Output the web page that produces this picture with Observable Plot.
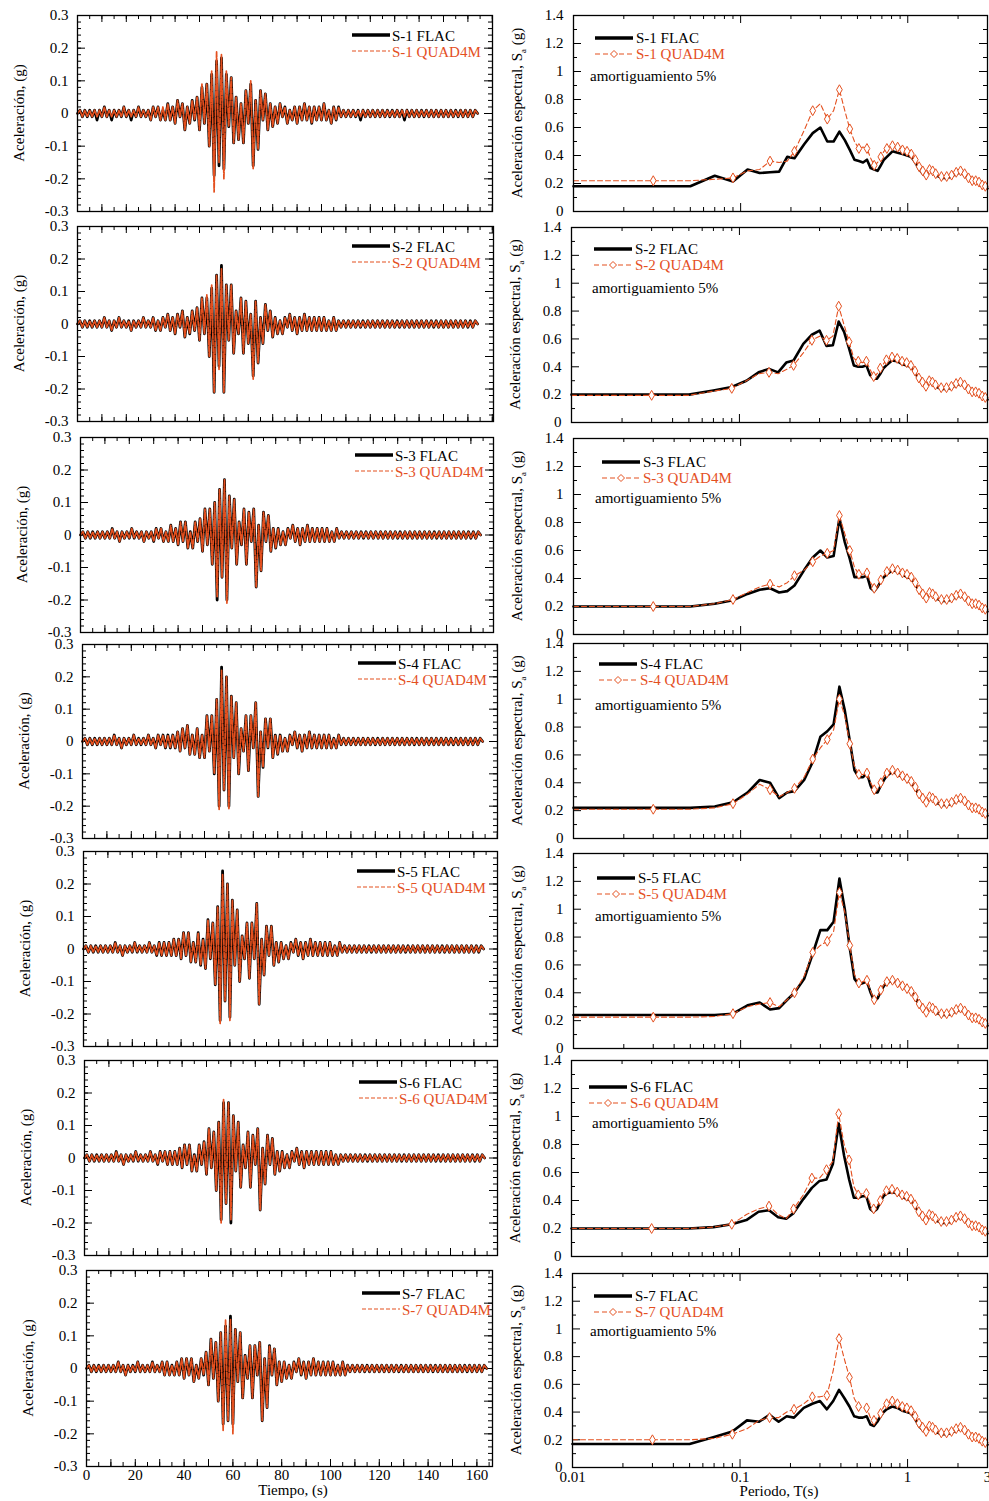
<!DOCTYPE html>
<html><head><meta charset="utf-8">
<script src="https://cdn.jsdelivr.net/npm/d3@7"></script>
<script src="https://cdn.jsdelivr.net/npm/@observablehq/plot@0.6"></script>
<style>
html,body{margin:0;padding:0;background:#fff;}
#root{position:relative;width:989px;height:1501px;overflow:hidden;background:#fff;}
</style></head><body><div id="root"></div>
<script>
// ---------------- DATA ----------------
// Time histories: acceleration in hundredths of g, one sample per second (paso)
const paso = 1;
const s1Flac = [0,1,-1,1,-1,1,-1,1,-2,1, -1,2,-1,1,-2,1,-1,1,-1,2, -1,1,-2,1,-1,2,-1,1,-1,1,
 -2,2,-1,2,-2,1,-2,3,-2,2, -3,4,-1,3,-5,2,-3,4,-2,5, -5,8,-3,9,-10,12,-19,16,-16,17,
 -17,12,-4,11,-9,5,-8,3,-9,7, -3,9,-16,4,-11,7,-2,6,-5,3, -4,2,-3,3,-1,2,-3,1,-2,2,
 -3,2,-2,3,-2,2,-3,2,-2,2, -2,3,-2,1,-3,2,-2,2,-1,1, -1,1,-1,1,-1,1,-2,1,-1,1,
 -1,1,-1,1,-1,1,-1,1,-1,1, -1,1,-1,1,-2,1,-1,1,-1,1, -1,1,-1,1,-1,1,-1,1,-1,1,
 -1,1,-1,1,-1,1,-1,1,-1,1, -1,1,-1,1,0];
const s1Quad = [0,1,-1,1,-1,1,-1,1,-1,1, -1,2,-1,1,-1,1,-1,1,-1,2, -1,1,-1,1,-1,2,-1,1,-1,1,
 -2,2,-1,2,-2,2,-2,3,-2,2, -3,4,-1,3,-5,2,-3,4,-2,5, -5,9,-3,9,-10,13,-24,19,-15,18,
 -20,13,-4,11,-9,5,-8,3,-9,7, -3,10,-17,4,-11,7,-2,6,-5,3, -4,2,-3,3,-1,2,-3,1,-2,2,
 -3,2,-2,3,-2,2,-3,2,-2,2, -2,3,-2,1,-3,2,-2,2,-1,1, -1,1,-1,1,-1,1,-1,1,-1,1,
 -1,1,-1,1,-1,1,-1,1,-1,1, -1,1,-1,1,-1,1,-1,1,-1,1, -1,1,-1,1,-1,1,-1,1,-1,1,
 -1,1,-1,1,-1,1,-1,1,-1,1, -1,1,-1,1,0];
const s2Flac = [0,1,-1,1,-1,1,-1,1,-1,1, -1,2,-1,1,-2,1,-1,2,-1,1, -1,1,-2,1,-1,1,-1,2,-1,1,
 -1,2,-2,1,-2,2,-1,3,-2,2, -3,3,-1,4,-4,2,-3,4,-2,5, -5,8,-3,8,-10,11,-21,15,-13,18,
 -21,12,-5,12,-9,4,-3,8,-9,7, -6,3,-16,7,-12,2,-6,6,-2,4, -4,2,-3,1,-3,2,-1,3,-2,2,
 -3,2,-2,3,-2,2,-2,2,-2,2, -2,2,-2,1,-2,2,-2,1,-1,1, -1,1,-1,1,-1,1,-1,1,-1,1,
 -1,1,-1,1,-1,1,-1,1,-1,1, -1,1,-1,1,-1,1,-1,1,-1,1, -1,1,-1,1,-1,1,-1,1,-1,1,
 -1,1,-1,1,-1,1,-1,1,-1,1, -1,1,-1,1,0];
const s2Quad = [0,1,-1,1,-1,1,-1,1,-1,1, -1,2,-1,1,-2,1,-1,2,-1,1, -1,1,-2,1,-1,1,-1,2,-1,1,
 -1,2,-2,1,-2,2,-1,3,-2,2, -3,3,-1,4,-4,2,-3,4,-2,5, -5,8,-3,9,-10,12,-21,15,-14,17,
 -21,12,-5,12,-9,4,-3,8,-9,7, -6,3,-17,7,-12,2,-6,6,-2,4, -4,2,-3,1,-3,2,-1,3,-2,2,
 -3,2,-2,3,-2,2,-2,2,-2,2, -2,2,-2,1,-2,2,-2,1,-1,1, -1,1,-1,1,-1,1,-1,1,-1,1,
 -1,1,-1,1,-1,1,-1,1,-1,1, -1,1,-1,1,-1,1,-1,1,-1,1, -1,1,-1,1,-1,1,-1,1,-1,1,
 -1,1,-1,1,-1,1,-1,1,-1,1, -1,1,-1,1,0];
const s3Flac = [0,1,-1,1,-1,1,-1,1,-1,1, -1,1,-1,2,-1,1,-2,1,-1,1, -1,2,-1,1,-1,1,-2,1,-1,1,
 -2,2,-1,2,-2,1,-2,3,-2,2, -3,4,-2,4,-4,1,-4,4,-2,5, -5,8,-3,8,-9,10,-20,14,-13,17,
 -20,12,-4,11,-9,4,-3,8,-9,7, -2,8,-16,3,-11,7,-2,6,-5,2, -4,2,-3,1,-3,2,-1,3,-2,2,
 -3,2,-2,3,-2,2,-2,2,-2,2, -2,2,-2,1,-2,2,-1,1,-1,1, -1,1,-1,1,-1,1,-1,1,-1,1,
 -1,1,-1,1,-1,1,-1,1,-1,1, -1,1,-1,1,-1,1,-1,1,-1,1, -1,1,-1,1,-1,1,-1,1,-1,1,
 -1,1,-1,1,-1,1,-1,1,-1,1, -1,1,-1,1,0];
const s3Quad = [0,1,-1,1,-1,1,-1,1,-1,1, -1,1,-1,2,-1,1,-2,1,-1,1, -1,2,-1,1,-1,1,-2,1,-1,1,
 -2,2,-1,2,-2,1,-2,3,-2,2, -3,4,-2,4,-4,1,-4,4,-2,5, -5,8,-3,8,-9,10,-19,14,-13,17,
 -21,12,-4,11,-9,4,-3,8,-9,7, -2,8,-16,3,-11,7,-2,6,-5,2, -4,2,-3,1,-3,2,-1,3,-2,2,
 -3,2,-2,3,-2,2,-2,2,-2,2, -2,2,-2,1,-2,2,-1,1,-1,1, -1,1,-1,1,-1,1,-1,1,-1,1,
 -1,1,-1,1,-1,1,-1,1,-1,1, -1,1,-1,1,-1,1,-1,1,-1,1, -1,1,-1,1,-1,1,-1,1,-1,1,
 -1,1,-1,1,-1,1,-1,1,-1,1, -1,1,-1,1,0];
const s4Flac = [0,1,-1,1,-1,1,-1,1,-1,1, -1,1,-1,2,-1,1,-2,1,-1,1, -1,2,-1,1,-1,1,-1,2,-1,1,
 -2,2,-1,2,-2,2,-2,2,-2,3, -3,4,-2,5,-4,2,-4,4,-5,2, -5,8,-3,8,-10,13,-20,23,-15,20,
 -20,14,-5,12,-10,4,-3,8,-9,8, -2,12,-17,3,-8,7,-2,7,-5,2, -4,2,-3,1,-3,2,-1,3,-2,2,
 -3,2,-2,3,-2,2,-2,2,-2,2, -2,2,-2,1,-2,2,-1,1,-1,1, -1,1,-1,1,-1,1,-1,1,-1,1,
 -1,1,-1,1,-1,1,-1,1,-1,1, -1,1,-1,1,-1,1,-1,1,-1,1, -1,1,-1,1,-1,1,-1,1,-1,1,
 -1,1,-1,1,-1,1,-1,1,-1,1, -1,1,-1,1,0];
const s4Quad = [0,1,-1,1,-1,1,-1,1,-1,1, -1,1,-1,2,-1,1,-2,1,-1,1, -1,2,-1,1,-1,1,-1,2,-1,1,
 -2,2,-1,2,-2,2,-2,2,-2,3, -3,4,-2,5,-4,2,-4,4,-5,2, -5,8,-3,8,-10,13,-21,22,-15,20,
 -21,14,-5,12,-10,4,-3,8,-9,8, -2,12,-17,3,-8,7,-2,7,-5,2, -4,2,-3,1,-3,2,-1,3,-2,2,
 -3,2,-2,3,-2,2,-2,2,-2,2, -2,2,-2,1,-2,2,-1,1,-1,1, -1,1,-1,1,-1,1,-1,1,-1,1,
 -1,1,-1,1,-1,1,-1,1,-1,1, -1,1,-1,1,-1,1,-1,1,-1,1, -1,1,-1,1,-1,1,-1,1,-1,1,
 -1,1,-1,1,-1,1,-1,1,-1,1, -1,1,-1,1,0];
const s5Flac = [0,1,-1,1,-1,1,-1,1,-1,1, -1,1,-1,2,-1,1,-2,1,-1,1, -1,2,-1,1,-1,1,-1,2,-1,1,
 -2,2,-2,2,-2,2,-2,3,-2,3, -3,5,-2,5,-4,2,-4,5,-5,3, -6,9,-3,8,-11,13,-22,24,-16,20,
 -21,15,-5,12,-10,4,-3,8,-9,8, -3,14,-17,3,-8,7,-2,7,-5,2, -4,2,-3,1,-3,2,-1,3,-2,2,
 -3,2,-2,3,-2,2,-2,2,-2,2, -2,2,-2,1,-2,2,-1,1,-1,1, -1,1,-1,1,-1,1,-1,1,-1,1,
 -1,1,-1,1,-1,1,-1,1,-1,1, -1,1,-1,1,-1,1,-1,1,-1,1, -1,1,-1,1,-1,1,-1,1,-1,1,
 -1,1,-1,1,-1,1,-1,1,-1,1, -1,1,-1,1,0];
const s5Quad = [0,1,-1,1,-1,1,-1,1,-1,1, -1,1,-1,2,-1,1,-2,1,-1,1, -1,2,-1,1,-1,1,-1,2,-1,1,
 -2,2,-2,2,-2,2,-2,3,-2,3, -3,5,-2,5,-4,2,-4,5,-5,3, -6,9,-3,8,-11,13,-23,23,-16,20,
 -22,15,-5,12,-10,4,-3,8,-9,8, -3,14,-17,3,-8,7,-2,7,-5,2, -4,2,-3,1,-3,2,-1,3,-2,2,
 -3,2,-2,3,-2,2,-2,2,-2,2, -2,2,-2,1,-2,2,-1,1,-1,1, -1,1,-1,1,-1,1,-1,1,-1,1,
 -1,1,-1,1,-1,1,-1,1,-1,1, -1,1,-1,1,-1,1,-1,1,-1,1, -1,1,-1,1,-1,1,-1,1,-1,1,
 -1,1,-1,1,-1,1,-1,1,-1,1, -1,1,-1,1,0];
const s6Flac = [0,1,-1,1,-1,1,-1,1,-1,1, -1,1,-1,2,-1,1,-2,1,-1,1, -1,2,-1,1,-1,1,-1,2,-1,1,
 -2,2,-1,2,-2,2,-2,2,-2,3, -3,4,-2,4,-4,1,-4,4,-2,5, -5,9,-3,8,-10,11,-19,17,-14,17,
 -20,13,-4,11,-9,4,-3,8,-9,7, -2,9,-16,3,-8,7,-2,6,-5,2, -4,2,-3,1,-3,2,-1,3,-2,2,
 -3,2,-2,2,-2,2,-2,2,-2,2, -2,2,-2,1,-2,1,-1,1,-1,1, -1,1,-1,1,-1,1,-1,1,-1,1,
 -1,1,-1,1,-1,1,-1,1,-1,1, -1,1,-1,1,-1,1,-1,1,-1,1, -1,1,-1,1,-1,1,-1,1,-1,1,
 -1,1,-1,1,-1,1,-1,1,-1,1, -1,1,-1,1,0];
const s6Quad = [0,1,-1,1,-1,1,-1,1,-1,1, -1,1,-1,2,-1,1,-2,1,-1,1, -1,2,-1,1,-1,1,-1,2,-1,1,
 -2,2,-1,2,-2,2,-2,2,-2,3, -3,4,-2,4,-4,1,-4,4,-2,5, -5,9,-3,8,-10,11,-20,18,-14,17,
 -19,13,-4,11,-9,4,-3,8,-9,7, -2,9,-16,3,-8,7,-2,6,-5,2, -4,2,-3,1,-3,2,-1,3,-2,2,
 -3,2,-2,2,-2,2,-2,2,-2,2, -2,2,-2,1,-2,1,-1,1,-1,1, -1,1,-1,1,-1,1,-1,1,-1,1,
 -1,1,-1,1,-1,1,-1,1,-1,1, -1,1,-1,1,-1,1,-1,1,-1,1, -1,1,-1,1,-1,1,-1,1,-1,1,
 -1,1,-1,1,-1,1,-1,1,-1,1, -1,1,-1,1,0];
const s7Flac = [0,1,-1,1,-1,1,-1,1,-1,1, -1,1,-1,2,-1,1,-2,1,-1,1, -1,2,-1,1,-1,1,-1,2,-1,1,
 -1,2,-2,2,-2,1,-2,2,-2,3, -3,3,-2,3,-4,1,-3,3,-2,5, -5,9,-3,8,-10,11,-17,13,-16,16,
 -17,12,-4,11,-9,4,-3,7,-9,7, -2,8,-16,3,-12,7,-2,6,-5,2, -4,2,-3,1,-3,2,-1,3,-2,2,
 -3,2,-2,3,-2,2,-2,2,-2,2, -2,2,-2,1,-2,2,-2,1,-1,1, -1,1,-1,1,-1,1,-1,1,-1,1,
 -1,1,-1,1,-1,1,-1,1,-1,1, -1,1,-1,1,-1,1,-1,1,-1,1, -1,1,-1,1,-1,1,-1,1,-1,1,
 -1,1,-1,1,-1,1,-1,1,-1,1, -1,1,-1,1,0];
const s7Quad = [0,1,-1,1,-1,1,-1,1,-1,1, -1,1,-1,2,-1,1,-2,1,-1,1, -1,2,-1,1,-1,1,-1,2,-1,1,
 -1,2,-2,2,-2,1,-2,2,-2,3, -3,3,-2,3,-4,1,-3,3,-2,5, -5,9,-3,8,-10,11,-19,15,-16,15,
 -20,12,-4,11,-9,4,-3,7,-9,7, -2,8,-16,3,-12,7,-2,6,-5,2, -4,2,-3,1,-3,2,-1,3,-2,2,
 -3,2,-2,3,-2,2,-2,2,-2,2, -2,2,-2,1,-2,2,-2,1,-1,1, -1,1,-1,1,-1,1,-1,1,-1,1,
 -1,1,-1,1,-1,1,-1,1,-1,1, -1,1,-1,1,-1,1,-1,1,-1,1, -1,1,-1,1,-1,1,-1,1,-1,1,
 -1,1,-1,1,-1,1,-1,1,-1,1, -1,1,-1,1,0];

// Response spectra (5% damping): periods (s) and spectral acceleration Sa (g)
const periodos = [0.01,0.03,0.05,0.07,0.09,0.11,0.13,0.15,0.17,0.19,0.21,0.24,0.27,0.30,0.33,0.36,0.39,0.42,0.45,0.48,
 0.51,0.54,0.57,0.60,0.63,0.66,0.69,0.72,0.75,0.81,0.87,0.93,0.99,1.05,1.11,1.17,1.23,1.29,1.35,1.41,1.47,
 1.59,1.71,1.83,1.95,2.07,2.19,2.31,2.43,2.55,2.67,2.79,2.91,3.0];
const sa1Flac = [0.18,0.18,0.18,0.255,0.215,0.30,0.275,0.28,0.285,0.39,0.38,0.48,0.56,0.60,0.50,0.50,0.57,0.51,0.44,0.37,0.36,0.35,0.37,0.31,0.30,0.29,0.33,0.37,0.39,0.43,
 0.42,0.41,0.40,0.39,0.35,0.30,0.27,0.25,0.29,0.28,0.26,0.24,0.24,0.25,0.27,0.28,0.26,0.23,0.21,0.22,0.20,0.18,0.17,0.165];
const sa1Quad = [0.22,0.22,0.22,0.23,0.24,0.29,0.30,0.36,0.35,0.36,0.43,0.58,0.72,0.77,0.66,0.72,0.87,0.72,0.59,0.50,0.45,0.46,0.45,0.38,0.33,0.35,0.39,0.43,0.45,0.47,
 0.46,0.44,0.43,0.41,0.37,0.32,0.29,0.26,0.30,0.29,0.27,0.25,0.25,0.26,0.28,0.29,0.27,0.24,0.22,0.22,0.21,0.19,0.18,0.175];
const sa2Flac = [0.20,0.20,0.20,0.23,0.255,0.30,0.36,0.385,0.36,0.43,0.445,0.565,0.63,0.66,0.55,0.555,0.725,0.65,0.53,0.41,0.40,0.40,0.41,0.34,0.315,0.315,0.35,0.39,0.41,0.445,
 0.44,0.42,0.41,0.40,0.36,0.31,0.28,0.25,0.29,0.28,0.26,0.24,0.24,0.25,0.27,0.28,0.26,0.23,0.21,0.22,0.20,0.18,0.17,0.165];
const sa2Quad = [0.195,0.195,0.195,0.225,0.245,0.30,0.35,0.36,0.35,0.38,0.41,0.50,0.59,0.62,0.59,0.62,0.835,0.70,0.58,0.46,0.44,0.43,0.44,0.38,0.33,0.35,0.39,0.42,0.45,0.47,
 0.46,0.44,0.43,0.41,0.37,0.32,0.29,0.26,0.30,0.29,0.27,0.25,0.25,0.26,0.28,0.29,0.27,0.24,0.22,0.22,0.21,0.19,0.18,0.175];
const sa3Flac = [0.20,0.20,0.20,0.22,0.245,0.29,0.32,0.33,0.30,0.31,0.35,0.46,0.55,0.60,0.55,0.56,0.83,0.66,0.54,0.41,0.41,0.41,0.42,0.33,0.31,0.34,0.38,0.41,0.43,0.46,
 0.45,0.43,0.41,0.40,0.36,0.31,0.28,0.25,0.29,0.28,0.26,0.24,0.24,0.25,0.27,0.28,0.26,0.23,0.21,0.22,0.20,0.18,0.17,0.165];
const sa3Quad = [0.20,0.20,0.20,0.22,0.25,0.30,0.34,0.36,0.34,0.37,0.42,0.46,0.52,0.56,0.58,0.60,0.85,0.72,0.60,0.48,0.43,0.43,0.44,0.37,0.33,0.34,0.39,0.42,0.45,0.47,
 0.46,0.44,0.43,0.41,0.37,0.32,0.29,0.26,0.30,0.29,0.27,0.25,0.25,0.26,0.28,0.29,0.27,0.24,0.22,0.22,0.21,0.19,0.18,0.175];
const sa4Flac = [0.22,0.22,0.22,0.23,0.26,0.33,0.42,0.40,0.29,0.33,0.34,0.42,0.55,0.73,0.77,0.82,1.09,0.92,0.70,0.49,0.44,0.44,0.47,0.38,0.33,0.33,0.38,0.42,0.45,0.48,
 0.46,0.44,0.42,0.40,0.36,0.31,0.28,0.25,0.29,0.28,0.26,0.24,0.24,0.25,0.27,0.28,0.26,0.23,0.21,0.22,0.20,0.18,0.17,0.165];
const sa4Quad = [0.21,0.21,0.21,0.22,0.25,0.32,0.39,0.35,0.30,0.33,0.36,0.44,0.57,0.65,0.71,0.78,1.00,0.88,0.68,0.52,0.46,0.46,0.47,0.40,0.35,0.35,0.40,0.45,0.47,0.49,
 0.47,0.45,0.43,0.41,0.37,0.32,0.29,0.26,0.30,0.29,0.27,0.25,0.25,0.26,0.28,0.29,0.27,0.24,0.22,0.22,0.21,0.19,0.18,0.175];
const sa5Flac = [0.24,0.24,0.24,0.24,0.25,0.31,0.33,0.28,0.29,0.35,0.40,0.50,0.68,0.85,0.85,0.91,1.22,1.00,0.72,0.50,0.46,0.47,0.48,0.40,0.34,0.36,0.41,0.45,0.47,0.49,
 0.47,0.45,0.43,0.41,0.37,0.31,0.28,0.25,0.29,0.28,0.26,0.24,0.24,0.25,0.27,0.28,0.26,0.23,0.21,0.22,0.20,0.18,0.17,0.165];
const sa5Quad = [0.225,0.225,0.225,0.23,0.25,0.30,0.32,0.33,0.30,0.35,0.40,0.52,0.69,0.74,0.77,0.84,1.12,0.98,0.74,0.53,0.47,0.48,0.49,0.41,0.35,0.37,0.42,0.46,0.48,0.49,
 0.47,0.45,0.43,0.41,0.37,0.32,0.29,0.26,0.30,0.29,0.27,0.25,0.25,0.26,0.28,0.29,0.27,0.24,0.22,0.22,0.21,0.19,0.18,0.175];
const sa6Flac = [0.20,0.20,0.20,0.21,0.23,0.26,0.32,0.33,0.28,0.27,0.31,0.41,0.49,0.54,0.55,0.66,0.95,0.72,0.55,0.42,0.42,0.43,0.43,0.34,0.32,0.34,0.39,0.43,0.45,0.46,
 0.45,0.43,0.41,0.40,0.36,0.31,0.28,0.25,0.29,0.28,0.26,0.24,0.24,0.25,0.27,0.28,0.26,0.23,0.21,0.22,0.20,0.18,0.17,0.165];
const sa6Quad = [0.20,0.20,0.20,0.21,0.23,0.30,0.34,0.36,0.30,0.27,0.34,0.44,0.56,0.56,0.62,0.68,1.02,0.80,0.69,0.50,0.44,0.45,0.45,0.38,0.34,0.36,0.40,0.45,0.47,0.48,
 0.46,0.44,0.43,0.41,0.37,0.32,0.29,0.26,0.30,0.29,0.27,0.25,0.25,0.26,0.28,0.29,0.27,0.24,0.22,0.22,0.21,0.19,0.18,0.175];
const sa7Flac = [0.17,0.17,0.17,0.22,0.26,0.34,0.33,0.38,0.33,0.37,0.36,0.43,0.46,0.48,0.42,0.48,0.56,0.50,0.44,0.37,0.36,0.36,0.37,0.31,0.30,0.33,0.37,0.40,0.42,0.44,
 0.43,0.41,0.40,0.39,0.35,0.30,0.27,0.25,0.29,0.28,0.26,0.24,0.24,0.25,0.27,0.28,0.26,0.23,0.21,0.22,0.20,0.18,0.17,0.165];
const sa7Quad = [0.20,0.20,0.20,0.21,0.24,0.28,0.34,0.36,0.36,0.40,0.42,0.46,0.51,0.51,0.52,0.70,0.93,0.78,0.65,0.50,0.44,0.43,0.43,0.36,0.34,0.36,0.39,0.44,0.46,0.48,
 0.46,0.44,0.43,0.41,0.37,0.32,0.29,0.26,0.30,0.29,0.27,0.25,0.25,0.26,0.28,0.29,0.27,0.24,0.22,0.22,0.21,0.19,0.18,0.175];

// Tick labels
const ticksTiempo = [0,20,40,60,80,100,120,140,160];
const ticksAcel = [-0.3,-0.2,-0.1,0,0.1,0.2,0.3];
const ticksPeriodo = [0.01,0.1,1,3];
const ticksSa = [0,0.2,0.4,0.6,0.8,1,1.2,1.4];
const nombres = ["S-1","S-2","S-3","S-4","S-5","S-6","S-7"];
const seriesTiempo = [[s1Flac,s1Quad],[s2Flac,s2Quad],[s3Flac,s3Quad],[s4Flac,s4Quad],[s5Flac,s5Quad],[s6Flac,s6Quad],[s7Flac,s7Quad]];
const seriesEspectro = [[sa1Flac,sa1Quad],[sa2Flac,sa2Quad],[sa3Flac,sa3Quad],[sa4Flac,sa4Quad],[sa5Flac,sa5Quad],[sa6Flac,sa6Quad],[sa7Flac,sa7Quad]];

// ---------------- LAYOUT ----------------
const NARANJA = "#e4501f";
const FUENTE = '"Liberation Serif","Times New Roman",Times,serif';
const pxPorSegundo = 2.44;
const izq = [
 {x0:77,x1:492,y0:15,y1:211, lx:392, ly:36},
 {x0:77,x1:493,y0:226,y1:421, lx:392, ly:247},
 {x0:80,x1:493,y0:437,y1:632, lx:395, ly:456},
 {x0:82,x1:497,y0:644,y1:838, lx:398, ly:664},
 {x0:83,x1:497,y0:851,y1:1046, lx:397, ly:872},
 {x0:84,x1:497,y0:1060,y1:1255, lx:399, ly:1083},
 {x0:86,x1:492,y0:1270,y1:1466, lx:402, ly:1294}
];
const der = [
 {x0:573,x1:987,y0:15,y1:211, lx:636, ly:38, ax:590, ay:76},
 {x0:571,x1:987,y0:227,y1:422, lx:635, ly:249, ax:592, ay:288},
 {x0:573,x1:987,y0:438,y1:634, lx:643, ly:462, ax:595, ay:498},
 {x0:573,x1:987,y0:643,y1:838, lx:640, ly:664, ax:595, ay:705},
 {x0:573,x1:987,y0:853,y1:1048, lx:638, ly:878, ax:595, ay:916},
 {x0:571,x1:987,y0:1060,y1:1256, lx:630, ly:1087, ax:592, ay:1123},
 {x0:572,x1:987,y0:1273,y1:1467, lx:635, ly:1296, ax:590, ay:1331}
];
const root = document.getElementById("root");
const fmt = d => Math.abs(d) < 1e-9 ? "0" : String(+d.toFixed(2));
const estilo = `font-family:${FUENTE};font-size:15px;background:transparent;overflow:visible;color:#000;`;

function colocar(svg, left, top) {
  svg.style.position = "absolute";
  svg.style.left = left + "px";
  svg.style.top = top + "px";
  svg.style.maxWidth = "none";
  root.appendChild(svg);
}

function panelTiempo(cfg, flac, quad, mostrarX) {
  const W = cfg.x1 - cfg.x0, H = cfg.y1 - cfg.y0;
  const ml = 50, mr = 8, mt = 10, mb = 28;
  const tmax = W / pxPorSegundo;
  const fl = flac.map((v, i) => ({t: i * paso, a: v / 100}));
  const qd = quad.map((v, i) => ({t: i * paso, a: v / 100}));
  const menorT = d3.range(0, tmax, 5), mayorT = d3.range(0, tmax, 10);
  const menorA = d3.range(-0.3, 0.3001, 0.02);
  const svg = Plot.plot({
    width: W + ml + mr, height: H + mt + mb,
    marginLeft: ml, marginRight: mr, marginTop: mt, marginBottom: mb,
    style: estilo,
    x: {domain: [0, tmax], axis: mostrarX ? "bottom" : null, ticks: ticksTiempo, tickSize: 0, tickPadding: 3, label: null},
    y: {domain: [-0.3, 0.3], ticks: ticksAcel, tickSize: 0, tickPadding: 9, tickFormat: fmt, label: null},
    marks: [
      Plot.tickY(menorA, {y: d => d, insetRight: W - 4, stroke: "#000"}),
      Plot.tickY(ticksAcel, {y: d => d, insetRight: W - 8, stroke: "#000"}),
      Plot.tickY(menorA, {y: d => d, insetLeft: W - 4, stroke: "#000"}),
      Plot.tickY(ticksAcel, {y: d => d, insetLeft: W - 8, stroke: "#000"}),
      Plot.tickX(menorT, {x: d => d, insetTop: H - 4, stroke: "#000"}),
      Plot.tickX(mayorT, {x: d => d, insetTop: H - 7, stroke: "#000"}),
      Plot.tickX(menorT, {x: d => d, insetBottom: H - 4, stroke: "#000"}),
      Plot.tickX(mayorT, {x: d => d, insetBottom: H - 7, stroke: "#000"}),
      Plot.line(fl, {x: "t", y: "a", stroke: "#000", strokeWidth: 2.8, strokeLinejoin: "round"}),
      Plot.line(qd, {x: "t", y: "a", stroke: NARANJA, strokeWidth: 1.7, strokeDasharray: "5,1.5"}),
      Plot.frame({stroke: "#000", strokeWidth: 1.3})
    ]
  });
  colocar(svg, cfg.x0 - ml, cfg.y0 - mt);
}

const menorPeriodo = [0.02,0.03,0.04,0.05,0.06,0.07,0.08,0.09,0.2,0.3,0.4,0.5,0.6,0.7,0.8,0.9,2,3];
function esMarcado(T) { const k = (T - 0.03) / 0.06; return T >= 0.03 && Math.abs(k - Math.round(k)) < 1e-6; }

function panelEspectro(cfg, flac, quad, mostrarX) {
  const W = cfg.x1 - cfg.x0, H = cfg.y1 - cfg.y0;
  const ml = 50, mr = 8, mt = 10, mb = 28;
  const fl = periodos.map((T, i) => ({T, sa: flac[i]}));
  const qd = periodos.map((T, i) => ({T, sa: quad[i]}));
  const mk = qd.filter(d => esMarcado(d.T));
  const menorS = d3.range(0.1, 1.4, 0.2);
  const svg = Plot.plot({
    width: W + ml + mr, height: H + mt + mb,
    marginLeft: ml, marginRight: mr, marginTop: mt, marginBottom: mb,
    style: estilo,
    x: {type: "log", domain: [0.01, 3], axis: mostrarX ? "bottom" : null, ticks: ticksPeriodo, tickFormat: d => String(d), tickSize: 0, tickPadding: 4, label: null},
    y: {domain: [0, 1.4], ticks: ticksSa, tickSize: 0, tickPadding: 10, tickFormat: fmt, label: null},
    marks: [
      Plot.tickY(menorS, {y: d => d, insetRight: W - 4, stroke: "#000"}),
      Plot.tickY(ticksSa, {y: d => d, insetRight: W - 8, stroke: "#000"}),
      Plot.tickY(menorS, {y: d => d, insetLeft: W - 4, stroke: "#000"}),
      Plot.tickY(ticksSa, {y: d => d, insetLeft: W - 8, stroke: "#000"}),
      Plot.tickX(menorPeriodo, {x: d => d, insetTop: H - 4, stroke: "#000"}),
      Plot.tickX([0.01, 0.1, 1], {x: d => d, insetTop: H - 8, stroke: "#000"}),
      Plot.tickX(menorPeriodo, {x: d => d, insetBottom: H - 4, stroke: "#000"}),
      Plot.tickX([0.01, 0.1, 1], {x: d => d, insetBottom: H - 8, stroke: "#000"}),
      Plot.line(fl, {x: "T", y: "sa", stroke: "#000", strokeWidth: 2.6}),
      Plot.line(qd, {x: "T", y: "sa", stroke: NARANJA, strokeWidth: 1.1, strokeDasharray: "5,3"}),
      Plot.dot(mk, {x: "T", y: "sa", symbol: "diamond", r: 3, stroke: NARANJA, fill: "#fff", strokeWidth: 1}),
      Plot.frame({stroke: "#000", strokeWidth: 1.3})
    ]
  });
  colocar(svg, cfg.x0 - ml, cfg.y0 - mt);
}

izq.forEach((c, i) => panelTiempo(c, seriesTiempo[i][0], seriesTiempo[i][1], i === 6));
der.forEach((c, i) => panelEspectro(c, seriesEspectro[i][0], seriesEspectro[i][1], i === 6));

// ---------------- OVERLAY: legends and axis titles ----------------
const ov = d3.select(root).append("svg")
  .attr("width", 989).attr("height", 1501)
  .style("position", "absolute").style("left", "0px").style("top", "0px")
  .style("font-family", FUENTE).style("font-size", "15px");

function texto(x, y, s, color = "#000", anchor = "start") {
  return ov.append("text").attr("x", x).attr("y", y + 5).attr("fill", color).attr("text-anchor", anchor).text(s);
}
function muestra(x1, x2, y, color, ancho, dash) {
  ov.append("line").attr("x1", x1).attr("x2", x2).attr("y1", y).attr("y2", y)
    .attr("stroke", color).attr("stroke-width", ancho).attr("stroke-dasharray", dash || null);
}

izq.forEach((c, i) => {
  muestra(c.lx - 40, c.lx - 2, c.ly - 1, "#000", 3.5);
  texto(c.lx, c.ly, `${nombres[i]} FLAC`);
  muestra(c.lx - 40, c.lx - 2, c.ly + 15, NARANJA, 1.2, "4,2");
  texto(c.lx, c.ly + 16, `${nombres[i]} QUAD4M`, NARANJA);
  ov.append("text").attr("transform", `translate(${c.x0 - 58},${(c.y0 + c.y1) / 2}) rotate(-90)`)
    .attr("text-anchor", "middle").attr("dy", "0.35em").text("Aceleración, (g)");
});
der.forEach((c, i) => {
  muestra(c.lx - 41, c.lx - 3, c.ly, "#000", 3.5);
  texto(c.lx, c.ly, `${nombres[i]} FLAC`);
  muestra(c.lx - 41, c.lx - 3, c.ly + 16, NARANJA, 1.1, "5,3");
  const cx = c.lx - 22, cy = c.ly + 16;
  ov.append("path").attr("d", `M${cx},${cy - 3.5}L${cx + 3.5},${cy}L${cx},${cy + 3.5}L${cx - 3.5},${cy}Z`)
    .attr("fill", "#fff").attr("stroke", NARANJA).attr("stroke-width", 1);
  texto(c.lx, c.ly + 16, `${nombres[i]} QUAD4M`, NARANJA);
  texto(c.ax, c.ay, "amortiguamiento 5%");
  const t = ov.append("text").attr("transform", `translate(${c.x0 - 56},${(c.y0 + c.y1) / 2}) rotate(-90)`)
    .attr("text-anchor", "middle").attr("dy", "0.35em");
  t.append("tspan").text("Aceleración espectral, S");
  t.append("tspan").attr("dy", 4).attr("font-size", 9).text("a");
  t.append("tspan").attr("dy", -4).text(" (g)");
});
texto(293, 1490, "Tiempo, (s)", "#000", "middle");
texto(779, 1491, "Periodo, T(s)", "#000", "middle");
</script></body></html>
